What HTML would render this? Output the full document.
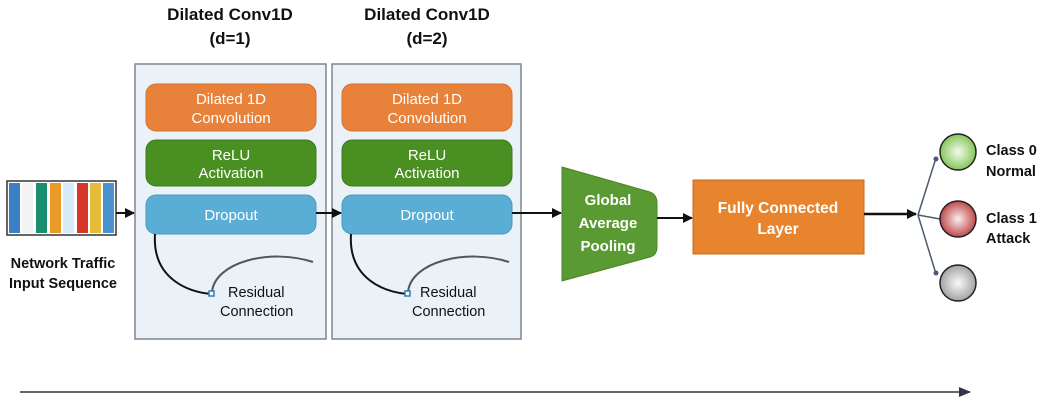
<!DOCTYPE html>
<html><head><style>
body{margin:0;background:#fff;}
svg text{font-family:"Liberation Sans",Arial,sans-serif;font-weight:bold;}
</style></head><body>
<svg width="1058" height="402" viewBox="0 0 1058 402" xmlns="http://www.w3.org/2000/svg">
<defs>
<marker id="ah" markerWidth="10" markerHeight="10" refX="9" refY="5" orient="auto" markerUnits="userSpaceOnUse"><path d="M0,0 L10,5 L0,10 z" fill="#111"/></marker>
<marker id="ah2" markerWidth="12" markerHeight="10" refX="11" refY="5" orient="auto" markerUnits="userSpaceOnUse"><path d="M0,0 L12,5 L0,10 z" fill="#334"/></marker>
<radialGradient id="gg" cx="0.5" cy="0.5" r="0.55"><stop offset="0" stop-color="#f4fbef"/><stop offset="1" stop-color="#7cc04a"/></radialGradient>
<radialGradient id="rg" cx="0.5" cy="0.5" r="0.55"><stop offset="0" stop-color="#fbeeee"/><stop offset="1" stop-color="#b83a3a"/></radialGradient>
<radialGradient id="yg" cx="0.5" cy="0.5" r="0.55"><stop offset="0" stop-color="#fafafa"/><stop offset="1" stop-color="#9a9a9a"/></radialGradient>
</defs>

<!-- titles -->
<g font-size="17" fill="#111" text-anchor="middle">
<text x="230" y="20">Dilated Conv1D</text><text x="230" y="44">(d=1)</text>
<text x="427" y="20">Dilated Conv1D</text><text x="427" y="44">(d=2)</text>
</g>

<!-- input sequence -->
<rect x="7" y="181" width="109" height="54" fill="#fff" stroke="#333" stroke-width="1.5"/>
<g stroke="none">
<rect x="9" y="183" width="11" height="50" fill="#3b7fc4"/>
<rect x="22" y="183" width="11" height="50" fill="#f4f4f4"/>
<rect x="36" y="183" width="11" height="50" fill="#1a9070"/>
<rect x="50" y="183" width="11" height="50" fill="#ea9a2a"/>
<rect x="63" y="183" width="11" height="50" fill="#d6ecf8"/>
<rect x="77" y="183" width="11" height="50" fill="#d8362a"/>
<rect x="90" y="183" width="11" height="50" fill="#e6bb3a"/>
<rect x="103" y="183" width="11" height="50" fill="#4a93d0"/>
</g>
<g font-size="14.5" fill="#111" text-anchor="middle">
<text x="63" y="268">Network Traffic</text><text x="63" y="288">Input Sequence</text>
</g>
<line x1="116" y1="213" x2="134" y2="213" stroke="#111" stroke-width="2" marker-end="url(#ah)"/>

<!-- panels -->
<g>
<rect x="135" y="64" width="191" height="275" fill="#eaf2f8" stroke="#7d8590" stroke-width="1.5"/>
<rect x="332" y="64" width="189" height="275" fill="#eaf2f8" stroke="#7d8590" stroke-width="1.5"/>
</g>
<g font-size="15" fill="#fff" text-anchor="middle" font-weight="normal">
<rect x="146" y="84" width="170" height="47" rx="10" fill="#e8823a" stroke="#d87030"/>
<rect x="146" y="140" width="170" height="46" rx="10" fill="#4a8f22" stroke="#3d7a1c"/>
<rect x="146" y="195" width="170" height="39" rx="10" fill="#5aaed6" stroke="#4a98c0"/>
<text x="231" y="104" style="font-weight:normal">Dilated 1D</text><text x="231" y="123" style="font-weight:normal">Convolution</text>
<text x="231" y="160" style="font-weight:normal">ReLU</text><text x="231" y="178" style="font-weight:normal">Activation</text>
<text x="231" y="220" style="font-weight:normal">Dropout</text>
<rect x="342" y="84" width="170" height="47" rx="10" fill="#e8823a" stroke="#d87030"/>
<rect x="342" y="140" width="170" height="46" rx="10" fill="#4a8f22" stroke="#3d7a1c"/>
<rect x="342" y="195" width="170" height="39" rx="10" fill="#5aaed6" stroke="#4a98c0"/>
<text x="427" y="104" style="font-weight:normal">Dilated 1D</text><text x="427" y="123" style="font-weight:normal">Convolution</text>
<text x="427" y="160" style="font-weight:normal">ReLU</text><text x="427" y="178" style="font-weight:normal">Activation</text>
<text x="427" y="220" style="font-weight:normal">Dropout</text>
</g>

<!-- residual -->
<g fill="none">
<path d="M155,234 C152,280 190,292 211,294" stroke="#111" stroke-width="2"/>
<path d="M212,292 C215,262 270,248 313,262" stroke="#555" stroke-width="2"/>
<rect x="209" y="291" width="5" height="5" fill="#fff" stroke="#2a7fb0" stroke-width="1.5"/>
<path d="M351,234 C348,280 386,292 407,294" stroke="#111" stroke-width="2"/>
<path d="M408,292 C411,262 466,248 509,262" stroke="#555" stroke-width="2"/>
<rect x="405" y="291" width="5" height="5" fill="#fff" stroke="#2a7fb0" stroke-width="1.5"/>
</g>
<g font-size="14.5" fill="#111">
<text x="228" y="297" style="font-weight:normal">Residual</text><text x="220" y="316" style="font-weight:normal">Connection</text>
<text x="420" y="297" style="font-weight:normal">Residual</text><text x="412" y="316" style="font-weight:normal">Connection</text>
</g>

<!-- connecting arrows -->
<line x1="316" y1="213" x2="341" y2="213" stroke="#111" stroke-width="2" marker-end="url(#ah)"/>
<line x1="512" y1="213" x2="561" y2="213" stroke="#111" stroke-width="2" marker-end="url(#ah)"/>

<!-- GAP -->
<path d="M562,167 L650,192 Q657,195 657,203 L657,247 Q657,255 650,257 L562,281 Z" fill="#5a9a32" stroke="#4a8528"/>
<g font-size="15" fill="#fff" text-anchor="middle">
<text x="608" y="205">Global</text><text x="608" y="228">Average</text><text x="608" y="251">Pooling</text>
</g>
<line x1="657" y1="218" x2="692" y2="218" stroke="#111" stroke-width="2" marker-end="url(#ah)"/>

<!-- FC -->
<rect x="693" y="180" width="171" height="74" fill="#e8842e" stroke="#c46a20"/>
<g font-size="15.5" fill="#fff" text-anchor="middle">
<text x="778" y="213">Fully Connected</text><text x="778" y="234">Layer</text>
</g>
<line x1="864" y1="214" x2="916" y2="214" stroke="#111" stroke-width="2.5" marker-end="url(#ah)"/>

<!-- outputs -->
<g stroke="#4a5a70" stroke-width="1.5" fill="none">
<path d="M918,215 L936,158"/><path d="M918,215 L940,219"/><path d="M918,215 L936,274"/>
</g>
<g fill="#4a5a70"><circle cx="936" cy="159" r="2.5"/><circle cx="936" cy="273" r="2.5"/></g>
<circle cx="958" cy="152" r="18" fill="url(#gg)" stroke="#222" stroke-width="1.5"/>
<circle cx="958" cy="219" r="18" fill="url(#rg)" stroke="#222" stroke-width="1.5"/>
<circle cx="958" cy="283" r="18" fill="url(#yg)" stroke="#222" stroke-width="1.5"/>
<g font-size="14.5" fill="#111">
<text x="986" y="155">Class 0</text><text x="986" y="176">Normal</text>
<text x="986" y="223">Class 1</text><text x="986" y="243">Attack</text>
</g>

<!-- bottom arrow -->
<line x1="20" y1="392" x2="970" y2="392" stroke="#334" stroke-width="1.5" marker-end="url(#ah2)"/>
</svg>
</body></html>
